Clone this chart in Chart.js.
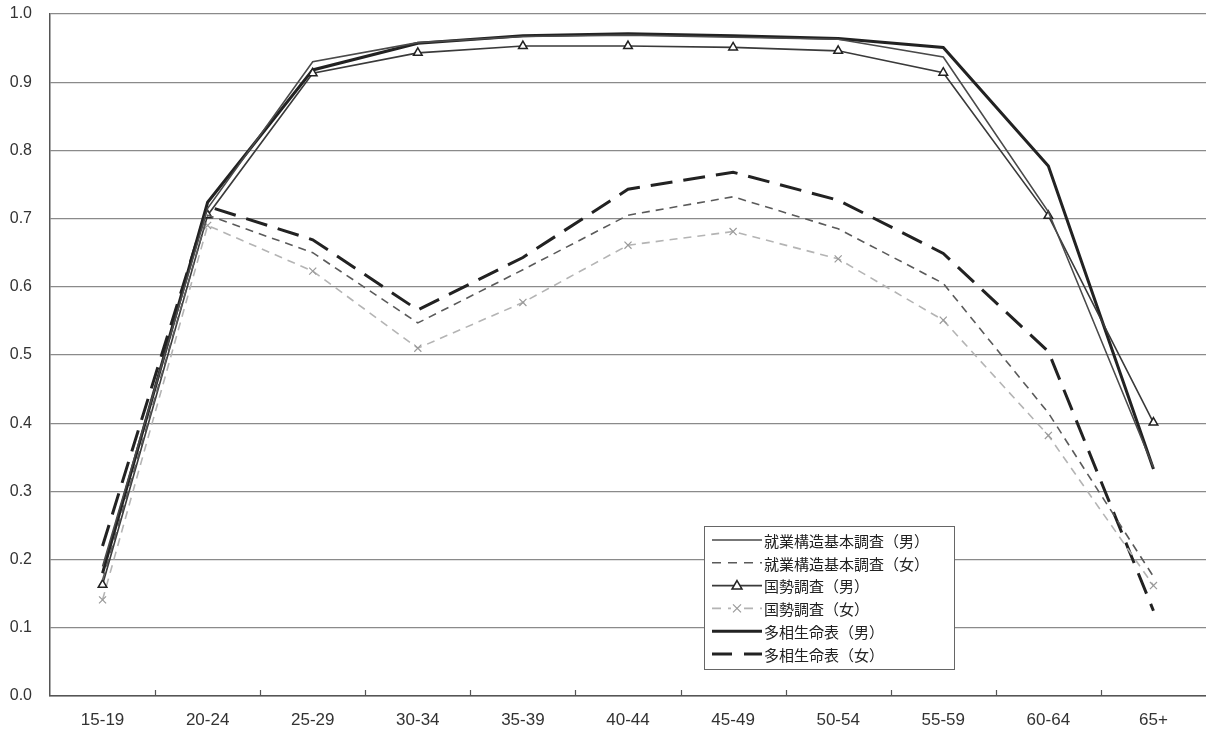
<!DOCTYPE html>
<html>
<head>
<meta charset="utf-8">
<script src="https://cdn.jsdelivr.net/npm/chart.js@4"></script>
<style>
  html, body { margin: 0; padding: 0; background: #fff; overflow: hidden; }
  #wrap { width: 1206px; height: 734px; position: relative; }
</style>
</head>
<body>
<div id="wrap"><canvas id="rateChart"></canvas></div>
<script>
// age groups on x axis
const ageGroups = ['15-19', '20-24', '25-29', '30-34', '35-39', '40-44', '45-49', '50-54', '55-59', '60-64', '65+'];

// series
const shugyoMale = [0.19, 0.715, 0.93, 0.958, 0.967, 0.969, 0.966, 0.963, 0.937, 0.71, 0.335];
const shugyoFemale = [0.17, 0.705, 0.65, 0.547, 0.625, 0.705, 0.732, 0.685, 0.605, 0.415, 0.175];
const kokuseiMale = [0.163, 0.705, 0.913, 0.943, 0.953, 0.953, 0.951, 0.946, 0.914, 0.704, 0.401];
const kokuseiFemale = [0.141, 0.69, 0.623, 0.51, 0.577, 0.661, 0.681, 0.641, 0.551, 0.382, 0.162];
const tasouMale = [0.18, 0.724, 0.918, 0.957, 0.968, 0.971, 0.968, 0.964, 0.951, 0.777, 0.333];
const tasouFemale = [0.22, 0.718, 0.669, 0.566, 0.643, 0.743, 0.768, 0.727, 0.649, 0.505, 0.125];

const seriesNames = ['就業構造基本調査（男）', '就業構造基本調査（女）', '国勢調査（男）', '国勢調査（女）', '多相生命表（男）', '多相生命表（女）'];

const yTicks = [0, 0.1, 0.2, 0.3, 0.4, 0.5, 0.6, 0.7, 0.8, 0.9, 1.0];

const cjkFont = '"Noto Sans CJK JP", sans-serif';
const numFont = '"Liberation Sans", Arial, sans-serif';

// small tick marks between categories, pointing up into the plot
const betweenTicks = {
     id: 'betweenTicks',
     afterDraw(chart) {
          const xs = chart.scales.x;
          const ctx = chart.ctx;
          const bottom = chart.chartArea.bottom;
          ctx.save();
          ctx.strokeStyle = '#555';
          ctx.lineWidth = 1.2;
          for (let i = 0; i < ageGroups.length - 1; i++) {
               const x = Math.round((xs.getPixelForValue(i) + xs.getPixelForValue(i + 1)) / 2) + 0.5;
               ctx.beginPath();
               ctx.moveTo(x, bottom - 6);
               ctx.lineTo(x, bottom);
               ctx.stroke();
          }
          ctx.restore();
     }
};

// legend box drawn inside the plot, lower right
const boxLegend = {
     id: 'boxLegend',
     afterDraw(chart) {
          const ctx = chart.ctx;
          const left = 704, top = 526, width = 250, height = 143;
          ctx.save();
          ctx.fillStyle = '#fff';
          ctx.fillRect(left, top, width, height);
          ctx.strokeStyle = '#666';
          ctx.lineWidth = 1;
          ctx.strokeRect(left + 0.5, top + 0.5, width, height);

          chart.data.datasets.forEach((ds, i) => {
               const y = top + 14 + i * 22.8;
               const x0 = left + 8, x1 = left + 58;
               ctx.strokeStyle = ds.borderColor;
               ctx.lineWidth = ds.borderWidth;
               ctx.setLineDash(ds.legendDash || []);
               ctx.beginPath();
               ctx.moveTo(x0, y);
               ctx.lineTo(x1, y);
               ctx.stroke();
               ctx.setLineDash([]);

               const mx = (x0 + x1) / 2;
               if (ds.pointStyle === 'triangle') {
                    ctx.fillStyle = '#fff';
                    ctx.strokeStyle = ds.pointBorderColor;
                    ctx.lineWidth = 1.5;
                    ctx.beginPath();
                    ctx.moveTo(mx, y - 5);
                    ctx.lineTo(mx + 5, y + 3.5);
                    ctx.lineTo(mx - 5, y + 3.5);
                    ctx.closePath();
                    ctx.fill();
                    ctx.stroke();
               } else if (ds.pointStyle === 'crossRot') {
                    ctx.fillStyle = '#fff';
                    ctx.fillRect(mx - 6, y - 3, 12, 6);
                    ctx.strokeStyle = ds.pointBorderColor;
                    ctx.lineWidth = 1.2;
                    ctx.beginPath();
                    ctx.moveTo(mx - 4, y - 4); ctx.lineTo(mx + 4, y + 4);
                    ctx.moveTo(mx + 4, y - 4); ctx.lineTo(mx - 4, y + 4);
                    ctx.stroke();
               }

               ctx.fillStyle = '#222';
               ctx.font = '15px ' + cjkFont;
               ctx.textBaseline = 'middle';
               ctx.fillText(ds.label, x1 + 2, y + 1);
          });
          ctx.restore();
     }
};

const ctx = document.getElementById('rateChart').getContext('2d');
new Chart(ctx, {
     type: 'line',
     data: {
          labels: ageGroups,
          datasets: [
               {
                    label: seriesNames[0],
                    data: shugyoMale,
                    borderColor: '#4a4a4a',
                    borderWidth: 1.6,
                    pointRadius: 0
               },
               {
                    label: seriesNames[1],
                    data: shugyoFemale,
                    borderColor: '#5a5a5a',
                    borderWidth: 1.6,
                    borderDash: [8, 6],
                    legendDash: [9, 7],
                    pointRadius: 0
               },
               {
                    label: seriesNames[2],
                    data: kokuseiMale,
                    borderColor: '#3a3a3a',
                    borderWidth: 1.6,
                    pointStyle: 'triangle',
                    pointRadius: 5,
                    pointBackgroundColor: '#fff',
                    pointBorderColor: '#222',
                    pointBorderWidth: 1.5
               },
               {
                    label: seriesNames[3],
                    data: kokuseiFemale,
                    borderColor: '#b4b4b4',
                    borderWidth: 1.6,
                    borderDash: [8, 6],
                    legendDash: [9, 7],
                    pointStyle: 'crossRot',
                    pointRadius: 5,
                    pointBorderColor: '#9a9a9a',
                    pointBorderWidth: 1.2
               },
               {
                    label: seriesNames[4],
                    data: tasouMale,
                    borderColor: '#222',
                    borderWidth: 3,
                    pointRadius: 0
               },
               {
                    label: seriesNames[5],
                    data: tasouFemale,
                    borderColor: '#222',
                    borderWidth: 3,
                    borderDash: [22, 11],
                    legendDash: [20, 12],
                    pointRadius: 0
               }
          ]
     },
     options: {
          responsive: true,
          maintainAspectRatio: false,
          animation: false,
          layout: { autoPadding: false, padding: { left: 0, top: 14, right: 0, bottom: 0 } },
          plugins: {
               legend: { display: false },
               tooltip: { enabled: false }
          },
          scales: {
               x: {
                    offset: true,
                    grid: { display: false, drawTicks: false },
                    border: { display: true, color: '#555', width: 1.5 },
                    afterFit: (scale) => {
                         scale.height = 38;
                         scale.paddingLeft = 0;
                         scale.paddingRight = 0;
                    },
                    ticks: {
                         color: '#333',
                         padding: 14,
                         font: { family: numFont, size: 17 }
                    }
               },
               y: {
                    min: 0,
                    max: 1,
                    afterBuildTicks: (scale) => { scale.ticks = yTicks.map(v => ({ value: v })); },
                    afterFit: (scale) => {
                         scale.width = 50;
                         scale.paddingTop = 0;
                         scale.paddingBottom = 0;
                    },
                    grid: { color: '#8a8a8a', lineWidth: 1.3, drawTicks: false },
                    border: { display: true, color: '#555', width: 1.5 },
                    ticks: {
                         color: '#333',
                         padding: 18,
                         font: { family: numFont, size: 16 },
                         callback: (v) => Number(v).toFixed(1)
                    }
               }
          }
     },
     plugins: [betweenTicks, boxLegend]
});
</script>
</body>
</html>
